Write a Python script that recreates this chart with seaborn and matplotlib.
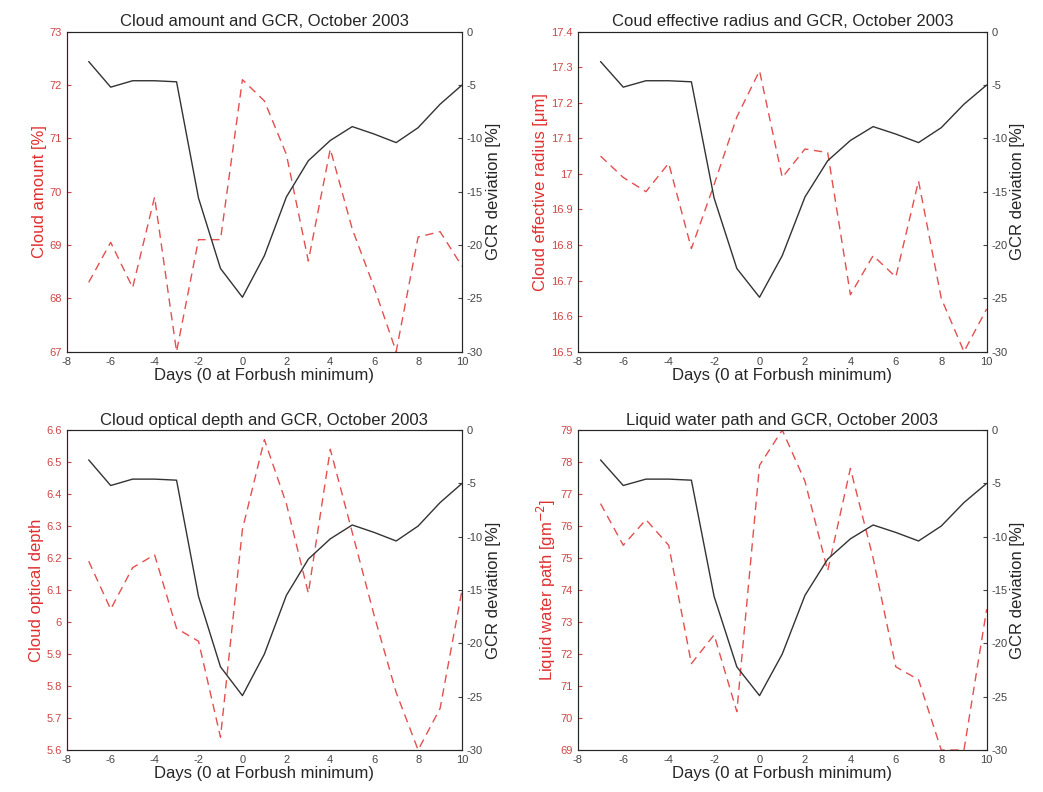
import matplotlib
matplotlib.use("Agg")
import matplotlib.pyplot as plt
import seaborn as sns
import pandas as pd

days = list(range(-7, 11))

gcr = [-2.8, -5.2, -4.6, -4.6, -4.7, -15.6, -22.2, -24.9, -21.0, -15.5,
       -12.1, -10.2, -8.9, -9.6, -10.4, -9.0, -6.8, -5.0]

cloud_amount = [68.3, 69.05, 68.2, 69.9, 67.0, 69.1, 69.1, 72.1, 71.7, 70.7,
                68.7, 70.8, 69.3, 68.2, 67.0, 69.15, 69.25, 68.6]
eff_radius = [17.05, 16.99, 16.95, 17.03, 16.79, 16.97, 17.16, 17.29, 16.99, 17.07,
              17.06, 16.66, 16.77, 16.71, 16.98, 16.65, 16.50, 16.62]
optical_depth = [6.19, 6.04, 6.17, 6.21, 5.98, 5.94, 5.64, 6.29, 6.57, 6.37,
                 6.09, 6.54, 6.28, 6.02, 5.78, 5.60, 5.73, 6.10]
water_path = [76.7, 75.4, 76.2, 75.4, 71.7, 72.6, 70.2, 77.9, 79.0, 77.4,
              74.6, 77.8, 75.0, 71.6, 71.2, 69.0, 69.0, 73.4]

panels = [
    ("Cloud amount and GCR, October 2003", "Cloud amount [%]", cloud_amount,
     (67, 73), [67, 68, 69, 70, 71, 72, 73], None),
    ("Coud effective radius and GCR, October 2003", "Cloud effective radius [\u03bcm]", eff_radius,
     (16.5, 17.4), [16.5, 16.6, 16.7, 16.8, 16.9, 17.0, 17.1, 17.2, 17.3, 17.4],
     ["16.5", "16.6", "16.7", "16.8", "16.9", "17", "17.1", "17.2", "17.3", "17.4"]),
    ("Cloud optical depth and GCR, October 2003", "Cloud optical depth", optical_depth,
     (5.6, 6.6), [5.6, 5.7, 5.8, 5.9, 6.0, 6.1, 6.2, 6.3, 6.4, 6.5, 6.6],
     ["5.6", "5.7", "5.8", "5.9", "6", "6.1", "6.2", "6.3", "6.4", "6.5", "6.6"]),
    ("Liquid water path and GCR, October 2003", "Liquid water path [gm$^{-2}$]", water_path,
     (69, 79), list(range(69, 80)), None),
]

sns.set_style("white")
plt.rcParams['font.family'] = ['Liberation Sans', 'DejaVu Sans']
plt.rcParams['axes.unicode_minus'] = False
red = '#e03030'
redtick = '#d04545'

fig = plt.figure(figsize=(10.43, 7.92), dpi=100)
positions = [
    [0.064, 0.556, 0.379, 0.404],
    [0.554, 0.556, 0.392, 0.404],
    [0.064, 0.053, 0.379, 0.404],
    [0.554, 0.053, 0.392, 0.404],
]

for pos, (title, ylabel, vals, ylim, yticks, yticklabels) in zip(positions, panels):
    ax = fig.add_axes(pos)
    df = pd.DataFrame({"day": days, "val": vals, "gcr": gcr})
    sns.lineplot(data=df, x="day", y="val", ax=ax, color=red, linestyle=(0, (6, 4)),
                 linewidth=1.0, alpha=0.85)
    ax.set_xlim(-8, 10)
    ax.set_ylim(*ylim)
    ax.set_xticks(range(-8, 11, 2))
    ax.set_yticks(yticks)
    if yticklabels:
        ax.set_yticklabels(yticklabels)
    ax.tick_params(axis='y', colors=redtick, labelsize=8, direction='in', length=3)
    ax.tick_params(axis='x', colors='#444444', labelsize=8, direction='in', length=3)
    ax.set_ylabel(ylabel, color=red, fontsize=12, labelpad=2)
    ax.set_xlabel("Days (0 at Forbush minimum)", fontsize=12, labelpad=1)
    ax.set_title(title, fontsize=12, pad=4)
    for s in ax.spines.values():
        s.set_color('#555555')
    ax.spines['left'].set_color(red)

    ax2 = ax.twinx()
    sns.lineplot(data=df, x="day", y="gcr", ax=ax2, color='#333333', linewidth=1.0)
    ax2.set_ylim(-30, 0)
    ax2.set_yticks(range(-30, 1, 5))
    ax2.tick_params(axis='y', colors='#444444', labelsize=8, direction='in', length=3)
    ax2.set_ylabel("GCR deviation [%]", fontsize=12, labelpad=2)
    ax2.set_xlabel("")

fig.savefig("out.png", dpi=100)
